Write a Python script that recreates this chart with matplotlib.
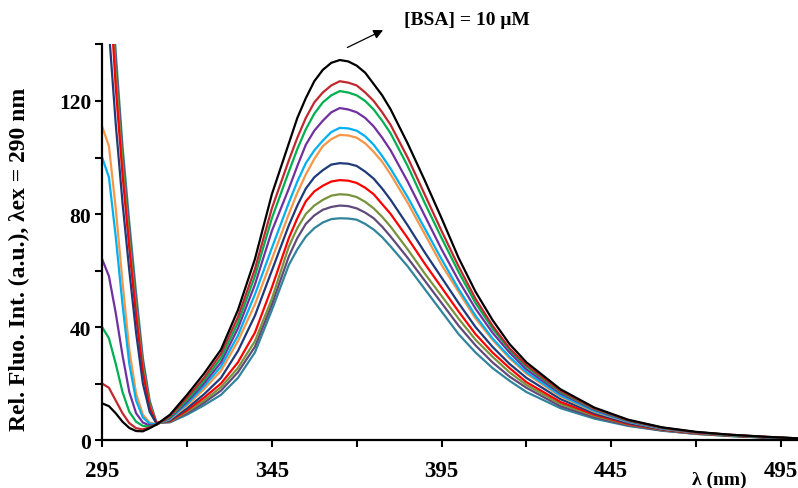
import matplotlib
matplotlib.use('agg')
import matplotlib.pyplot as plt
from matplotlib.ticker import MultipleLocator

# emission wavelengths (nm)
wavelength = [295, 297, 299, 301, 303, 305, 307, 309, 311, 315, 320, 325, 330, 335, 340, 345,
              350, 352.5, 355, 357.5, 360, 362.5, 365, 367.5, 370, 372.5, 375, 377.5, 380,
              385, 390, 395, 400, 405, 410, 415, 420, 430, 440, 450, 460, 470, 480, 490, 500]

# relative fluorescence intensity, one list per titration step
fl_1 = [13, 12, 9.5, 6.5, 4.3, 3.2, 3.1, 4.2, 5.5, 9, 16, 23.5, 32, 46, 64, 87,
        105, 114, 121, 127, 131, 133.5, 134.5, 134, 132.5, 130, 126, 122, 117,
        105, 92, 78.5, 64.5, 52.5, 42.5, 34, 27.5, 18, 11.5, 7.2, 4.5, 2.9, 1.9, 1.2, 0.6]
fl_2 = [20, 18.5, 14, 9.5, 6, 4.2, 3.8, 4.5, 5.5, 8.5, 15, 22, 30.5, 43.5, 60.5, 82,
        99, 107, 114, 119.5, 123, 125.5, 127, 126.5, 125.5, 123, 120, 116, 111.5,
        100, 87, 74, 61.5, 50, 40.5, 32.5, 26.5, 17.4, 11.2, 7, 4.4, 2.8, 1.9, 1.2, 0.6]
fl_3 = [40, 36, 27, 17, 10, 6.5, 5, 4.8, 5.5, 8.2, 14.2, 21, 29, 41.5, 58, 78.5,
        95, 103, 110, 115.5, 119.5, 122, 123.5, 123, 122, 120, 117, 113, 108.5,
        97, 84, 71.5, 59.5, 48.5, 39.5, 32, 26, 17, 11, 6.9, 4.3, 2.8, 1.8, 1.1, 0.6]
fl_4 = [64, 58, 45, 30, 17, 9.5, 6.2, 5.2, 5.5, 7.9, 13.5, 20, 27.5, 39.5, 55, 74,
        89, 97, 104.5, 109.5, 113, 116, 117.5, 117, 116, 114, 111, 107, 102.5,
        91.5, 79.5, 67.5, 56.5, 46.5, 38, 31, 25, 16.5, 10.7, 6.7, 4.2, 2.7, 1.8, 1.1, 0.6]
fl_5 = [100, 93, 72, 48, 27, 14, 8, 5.8, 5.6, 7.6, 12.8, 19, 26, 37, 51.5, 68,
        84, 91.5, 98, 102.5, 106, 109, 110.5, 110.3, 109.5, 107.5, 104.5, 100.5, 96,
        86, 75, 64, 53.5, 44, 36, 29.5, 24, 15.8, 10.3, 6.5, 4.1, 2.7, 1.8, 1.1, 0.5]
fl_6 = [111, 104, 82, 56, 32, 16.5, 9, 6.2, 5.6, 7.4, 12.2, 18, 24.5, 35, 48, 64,
        80, 87.5, 94, 99.5, 104, 106.5, 108, 107.8, 107, 105, 102, 98.5, 94,
        84, 73, 62, 52.5, 43, 35.5, 29, 23.5, 15.4, 10, 6.4, 4, 2.6, 1.7, 1.1, 0.5]
fl_7 = [210, 145, 112, 84, 60, 38, 20, 10, 5.8, 7, 11.2, 16.2, 22, 31.5, 44, 60,
        76, 83, 89, 93, 95.5, 97.5, 98, 97.8, 97, 95, 92.5, 89, 85,
        76, 66.5, 57.5, 48.5, 40, 33, 27, 22, 14.5, 9.5, 6, 3.8, 2.5, 1.6, 1, 0.5]
fl_8 = [230, 165, 125, 94, 68, 44, 24, 11.5, 6, 6.8, 10.5, 15, 20, 27.5, 38, 54,
        71.5, 78.5, 84.5, 88, 90, 91.5, 92, 91.8, 91, 89.3, 87, 83.5, 80,
        71.5, 62.5, 54, 45.5, 37.5, 31, 25.5, 20.5, 13.5, 9, 5.7, 3.7, 2.4, 1.6, 1, 0.5]
fl_9 = [240, 172, 130, 98, 71, 47, 26, 12.5, 6, 6.6, 10, 14, 18.7, 25.5, 35, 50,
        68.5, 75, 80, 83, 85, 86.5, 87, 86.8, 86, 84.3, 82, 79, 75.5,
        67.5, 59, 51, 43, 35.5, 29.5, 24, 19.5, 12.8, 8.6, 5.5, 3.6, 2.3, 1.5, 1, 0.5]
fl_10 = [245, 176, 134, 101, 74, 49, 27.5, 13, 6, 6.4, 9.5, 13.2, 17.5, 24, 33, 48,
         65, 71.5, 76.5, 79.5, 81.5, 82.5, 83, 82.8, 82, 80.5, 78.5, 75.5, 72,
         64.5, 56.5, 48.5, 40.5, 33.5, 27.5, 22.5, 18.5, 12, 8.1, 5.2, 3.4, 2.2, 1.5, 0.9, 0.5]
fl_11 = [250, 180, 137, 104, 77, 52, 29, 14, 6.2, 6.3, 9, 12.3, 16, 22, 31, 46,
         62, 67.5, 72, 75, 77, 78.2, 78.5, 78.4, 78, 76.5, 74.5, 71.8, 68.5,
         61.5, 53.5, 45.5, 37.5, 31, 25.5, 21, 17, 11.3, 7.6, 5, 3.3, 2.2, 1.4, 0.9, 0.5]

series = [fl_1, fl_2, fl_3, fl_4, fl_5, fl_6, fl_7, fl_8, fl_9, fl_10, fl_11]
colors = ['#000000', '#C0282D', '#00B050', '#7030A0', '#00B0F0', '#F79646',
          '#1F3A78', '#FF0000', '#77933C', '#604A7B', '#31849B']

plt.rcParams['font.family'] = ['Liberation Serif', 'DejaVu Serif']
plt.rcParams['font.weight'] = 'bold'

fig = plt.figure(figsize=(7.98, 4.89), dpi=100)
ax = fig.add_axes([0.128, 0.098, 0.872, 0.809])

# draw lowest first so the black curve sits on top
for ys, c in reversed(list(zip(series, colors))):
    ax.plot(wavelength, ys, color=c, lw=1.6, solid_joinstyle='round')

ax.set_xlim(295, 500)
ax.set_ylim(0, 140)
ax.set_xticks([295, 345, 395, 445, 495])
ax.set_xticks([320, 370, 420, 470], minor=True)
ax.yaxis.set_major_locator(MultipleLocator(40))
ax.yaxis.set_minor_locator(MultipleLocator(20))

for s in ['top', 'right']:
    ax.spines[s].set_visible(False)
for s in ['left', 'bottom']:
    ax.spines[s].set_linewidth(1.6)

ax.tick_params(which='both', direction='out', length=5, width=1.5, color='black')
ax.tick_params(axis='x', which='major', pad=9, labelsize=16.5)
ax.tick_params(axis='y', which='major', pad=3, labelsize=15.5)
for lab in ax.get_xticklabels() + ax.get_yticklabels():
    lab.set_fontweight('bold')

ax.set_ylabel('Rel. Fluo. Int. (a.u.), \u03bbex = 290 nm', fontsize=17,
              fontweight='bold')
ax.yaxis.set_label_coords(-0.104, 0.46)
ax.text(0.887, -0.1, '\u03bb (nm)', transform=ax.transAxes, fontsize=14,
        fontweight='bold', ha='center', va='center')

ax.annotate('', xy=(378.5, 145.5), xytext=(366.5, 138.5), annotation_clip=False,
            arrowprops=dict(arrowstyle='-|>', color='black', lw=0.9, mutation_scale=14))
ax.text(384, 149, '[BSA] = 10 \u03bcM', fontsize=14, fontweight='bold',
        ha='left', va='center', clip_on=False)

fig.savefig('out.png', dpi=100)
